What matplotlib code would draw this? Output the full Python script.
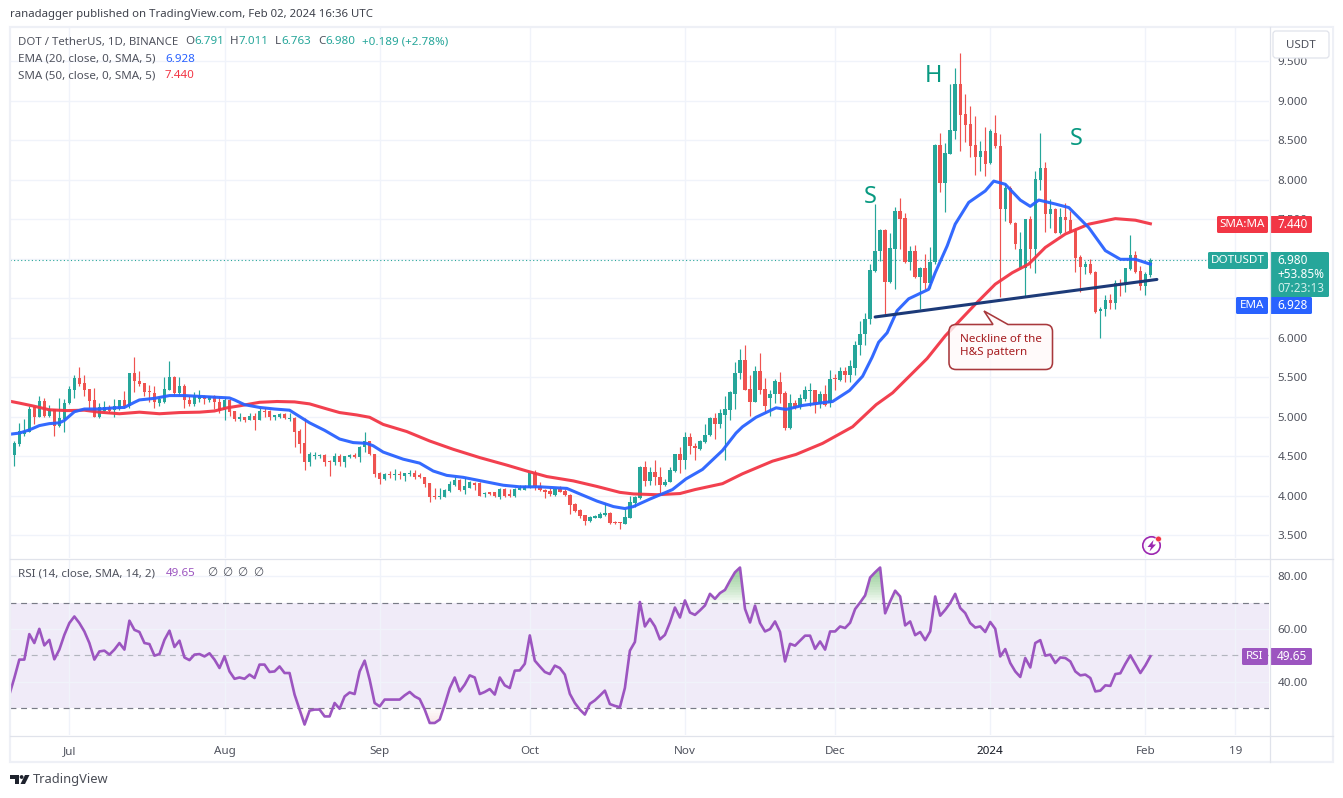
import numpy as np
import pandas as pd
import matplotlib
matplotlib.use('Agg')
import matplotlib.pyplot as plt
import matplotlib.dates as mdates
from matplotlib.patches import Rectangle, Circle, Polygon, PathPatch, FancyBboxPatch
from matplotlib.path import Path

plt.rcParams['font.family'] = ['Noto Sans', 'DejaVu Sans']

start_date = '2023-06-20'
opens = [4.517,4.656,4.78,4.81,5.115,5.00,5.20,5.01,5.095,4.875,
 4.97,5.17,5.34,5.49,5.42,5.35,5.21,4.99,5.07,5.115,
 5.08,5.09,5.21,5.135,5.545,5.45,5.43,5.315,5.30,5.17,
 5.18,5.34,5.495,5.30,5.39,5.21,5.16,5.22,5.255,5.205,
 5.255,5.19,5.085,5.21,5.065,4.97,4.99,4.96,5.01,4.96,
 5.065,5.065,5.00,4.99,5.035,4.97,4.985,4.82,4.665,4.42,
 4.505,4.505,4.515,4.43,4.42,4.50,4.425,4.49,4.51,4.485,
 4.61,4.685,4.53,4.28,4.205,4.27,4.26,4.27,4.25,4.27,
 4.29,4.255,4.24,4.155,3.99,3.985,3.985,4.06,4.13,4.195,
 4.07,4.10,4.155,4.155,4.015,4.04,4.04,3.985,4.08,4.015,
 3.995,4.075,4.07,4.10,4.28,4.12,4.075,4.055,4.01,4.08,
 4.055,4.01,3.895,3.815,3.75,3.675,3.715,3.72,3.75,3.775,
 3.67,3.66,3.64,3.72,3.90,3.965,4.36,4.18,4.295,4.24,
 4.13,4.17,4.31,4.53,4.45,4.74,4.63,4.59,4.675,4.76,
 4.975,4.91,5.025,5.08,5.29,5.545,5.71,5.35,5.19,5.57,
 5.35,5.23,5.28,5.435,5.30,4.85,5.17,5.12,5.225,5.32,
 5.33,5.16,5.28,5.165,5.48,5.46,5.57,5.53,5.62,5.90,
 6.04,6.23,6.84,7.095,7.355,6.70,7.125,7.605,7.515,6.955,
 7.10,6.77,6.885,6.695,6.96,8.435,7.955,8.32,8.615,9.205,
 8.83,8.70,8.435,8.285,8.355,8.205,8.595,8.42,7.625,7.89,
 7.455,6.88,6.88,7.50,7.125,7.995,8.15,7.56,7.625,7.32,
 7.52,7.485,7.35,7.025,6.895,6.93,6.83,6.335,6.36,6.47,
 6.435,6.685,6.66,6.865,7.04,6.845,6.655,6.791]
closes = [4.665,4.82,4.82,5.095,5.00,5.20,5.01,5.095,4.875,4.98,
 5.17,5.35,5.49,5.415,5.34,5.20,5.00,5.12,5.12,5.07,
 5.135,5.21,5.135,5.545,5.445,5.41,5.305,5.305,5.18,5.22,
 5.35,5.495,5.30,5.39,5.205,5.16,5.255,5.265,5.22,5.255,
 5.18,5.065,5.21,5.055,4.97,4.99,4.96,5.01,4.96,5.065,
 5.055,4.99,5.01,5.035,4.975,4.985,4.81,4.655,4.42,4.52,
 4.515,4.515,4.42,4.42,4.495,4.425,4.50,4.51,4.485,4.615,
 4.685,4.525,4.27,4.205,4.27,4.255,4.27,4.255,4.28,4.29,
 4.24,4.235,4.14,3.975,3.975,4.00,4.07,4.145,4.20,4.07,
 4.12,4.165,4.13,4.00,4.03,4.02,3.99,4.08,4.00,3.995,
 4.08,4.09,4.115,4.28,4.115,4.07,4.04,4.015,4.08,4.045,
 4.005,3.88,3.80,3.735,3.675,3.725,3.74,3.765,3.775,3.655,
 3.65,3.65,3.73,3.915,3.98,4.36,4.18,4.295,4.24,4.13,
 4.175,4.32,4.53,4.45,4.74,4.625,4.60,4.69,4.76,4.98,
 4.91,5.04,5.09,5.31,5.555,5.71,5.34,5.19,5.575,5.34,
 5.13,5.29,5.445,5.29,4.85,5.17,5.11,5.235,5.33,5.33,
 5.15,5.28,5.15,5.48,5.47,5.575,5.53,5.64,5.91,6.05,
 6.235,6.85,7.10,7.355,6.70,7.135,7.605,7.505,6.955,7.10,
 6.77,6.885,6.695,6.96,8.435,7.955,8.33,8.625,9.205,8.815,
 8.69,8.425,8.285,8.355,8.20,8.61,8.42,7.625,7.89,7.445,
 7.18,7.125,7.505,7.125,8.005,8.15,7.56,7.625,7.32,7.52,
 7.485,7.35,7.01,6.895,6.93,6.815,6.325,6.365,6.47,6.435,
 6.685,6.66,6.875,7.04,6.83,6.655,6.80,6.98]
highs = [4.686,4.918,4.97,5.137,5.137,5.255,5.235,5.15,5.095,5.235,
 5.22,5.39,5.53,5.63,5.52,5.35,5.36,5.17,5.20,5.15,
 5.22,5.21,5.32,5.55,5.75,5.57,5.43,5.40,5.39,5.26,
 5.495,5.705,5.515,5.495,5.41,5.26,5.305,5.34,5.275,5.265,
 5.275,5.265,5.245,5.22,5.07,5.045,4.99,5.045,5.05,5.11,
 5.11,5.08,5.02,5.05,5.045,5.05,4.995,4.84,4.98,4.55,
 4.55,4.53,4.53,4.445,4.54,4.52,4.50,4.525,4.535,4.63,
 4.81,4.69,4.53,4.30,4.28,4.31,4.33,4.31,4.29,4.32,
 4.325,4.28,4.24,4.155,4.10,4.10,4.08,4.185,4.24,4.205,
 4.24,4.185,4.175,4.165,4.04,4.04,4.045,4.09,4.09,4.08,
 4.09,4.13,4.13,4.29,4.32,4.165,4.08,4.09,4.10,4.115,
 4.08,4.025,3.90,3.83,3.755,3.74,3.755,3.785,3.90,3.785,
 3.68,3.66,3.83,4.00,3.99,4.375,4.44,4.355,4.45,4.355,
 4.205,4.355,4.53,4.61,4.805,4.79,4.66,4.70,4.91,5.00,
 5.045,5.10,5.265,5.32,5.695,5.86,5.90,5.53,5.64,5.805,
 5.49,5.34,5.475,5.565,5.32,5.29,5.215,5.28,5.385,5.42,
 5.33,5.32,5.405,5.595,5.54,5.625,5.63,5.72,5.955,6.215,
 6.31,6.925,7.695,7.37,7.37,7.325,7.655,7.77,7.57,7.155,
 7.165,6.895,7.055,7.14,8.445,8.585,8.46,9.205,9.41,9.60,
 9.08,8.925,8.80,8.49,8.66,8.64,8.815,8.58,7.96,7.92,
 7.465,7.33,7.505,7.54,8.11,8.585,8.22,7.75,7.645,7.645,
 7.70,7.60,7.39,7.04,6.97,6.99,6.845,6.38,6.535,6.55,
 6.73,6.74,6.885,7.30,7.10,6.91,6.835,7.011]
lows = [4.378,4.63,4.75,4.80,4.91,4.99,4.99,4.99,4.75,4.87,
 4.80,5.16,5.23,5.38,5.26,5.11,4.99,4.98,5.06,5.04,
 4.99,5.085,5.11,5.11,5.305,5.39,5.26,5.18,5.11,5.13,
 5.17,5.33,5.275,5.275,5.11,5.13,5.13,5.19,5.16,5.19,
 5.095,5.045,4.95,5.01,4.94,4.94,4.935,4.955,4.83,4.95,
 5.00,4.96,4.96,4.985,4.97,4.945,4.62,4.54,4.32,4.37,
 4.46,4.47,4.37,4.25,4.38,4.375,4.36,4.48,4.475,4.425,
 4.55,4.51,4.24,4.14,4.20,4.225,4.20,4.21,4.185,4.25,
 4.205,4.225,4.11,3.92,3.95,3.95,3.975,4.04,4.12,4.06,
 4.015,4.09,4.07,3.995,3.98,4.005,3.98,3.96,3.975,3.98,
 3.985,4.065,4.065,4.09,4.07,4.06,3.97,4.00,4.00,4.04,
 3.995,3.76,3.785,3.71,3.625,3.67,3.71,3.71,3.74,3.645,
 3.635,3.575,3.635,3.71,3.85,3.955,4.115,4.13,4.13,4.02,
 4.12,4.165,4.30,4.28,4.33,4.52,4.455,4.58,4.66,4.75,
 4.715,4.85,4.455,4.96,5.09,5.47,5.33,5.005,5.18,5.28,
 5.045,5.005,5.17,5.17,4.83,4.845,5.09,5.09,5.195,5.13,
 5.04,5.105,5.13,5.12,5.34,5.45,5.435,5.435,5.52,5.775,
 5.91,6.165,6.83,6.965,6.29,6.69,6.62,7.115,6.94,6.86,
 6.755,6.365,6.62,6.63,6.93,7.845,7.59,8.32,8.51,8.36,
 8.47,8.29,8.055,8.11,8.04,8.195,8.405,6.515,7.475,7.435,
 7.125,6.865,6.52,6.885,6.82,7.87,7.33,7.38,7.32,7.31,
 7.33,7.33,6.83,6.58,6.80,6.80,6.31,5.99,6.275,6.36,
 6.36,6.53,6.57,6.855,6.82,6.60,6.535,6.763]

ema_pos = [-1,1,3,5,7,9,10,12,14,17,20,22,24,25,28,31,34,37,40,43,44,46,49,52,55,57,59,62,65,
 67.7,70.4,71.7,73.7,77.7,81,83.7,86.4,89.7,93.7,97.7,101,105,110.4,113,116.4,119.7,122,123.7,127,
 131.5,134.2,137.5,141.5,144.2,145.5,148.2,152.2,154.2,157.5,160.9,163.5,166.9,169.5,171.4,172.7,174.4,176.4,178.7,
 182.7,184,186.4,188,190.7,194,195.7,198,201,203,204.7,208,210.7,214.7,218,221,224,227]
ema_val = [4.775,4.79,4.83,4.885,4.91,4.92,4.95,5.06,5.095,5.095,5.11,5.115,5.18,5.21,5.23,5.265,5.265,5.255,5.245,5.235,5.21,5.15,5.115,5.095,5.08,5.00,4.92,4.825,4.715,
 4.67,4.66,4.63,4.55,4.46,4.41,4.31,4.255,4.23,4.18,4.13,4.11,4.11,4.09,4.02,3.93,3.86,3.835,3.86,3.955,
 4.075,4.21,4.33,4.57,4.79,4.87,4.99,5.11,5.09,5.14,5.17,5.19,5.33,5.51,5.75,5.94,6.06,6.34,6.49,
 6.61,6.82,7.16,7.435,7.71,7.855,7.98,7.94,7.74,7.66,7.74,7.69,7.645,7.39,7.10,6.99,6.99,6.928]
sma_pos = [-1,1,4,7,10.5,14,17,21,25,29,33,37,40,42.5,45,49,52.5,56,59,62.5,65,
 68.4,71,73.7,78.4,83,87.7,93,98.4,102.4,106.4,111.7,116.4,121,123.7,128.4,133,
 136,141.5,145.5,151.5,156.2,161.5,167.5,172.2,175.5,178.2,180.9,
 182.4,186,192,196,199.4,202.7,206,210,214.7,220,224,227]
sma_val = [5.195,5.17,5.13,5.085,5.075,5.08,5.055,5.035,5.055,5.035,5.05,5.055,5.07,5.11,5.135,5.18,5.19,5.185,5.16,5.095,5.05,
 5.02,4.99,4.90,4.81,4.69,4.585,4.48,4.385,4.31,4.24,4.185,4.115,4.04,4.02,4.01,4.025,
 4.075,4.15,4.275,4.435,4.52,4.66,4.87,5.15,5.30,5.47,5.64,
 5.735,6.02,6.42,6.675,6.82,6.93,7.14,7.31,7.435,7.505,7.485,7.44]
neck_pos = [172, 228.3]
neck_val = [6.26, 6.735]
rsi_val = [35,41.4,48.4,48.4,58.1,54.7,60.1,53.8,55.9,48.5,
 52.2,57.8,62.3,64.8,62.3,59.1,54.7,48.4,51.5,51.8,
 50.3,52.2,54.7,52.2,63.2,59.7,58.9,54.7,54.3,49.9,
 50.5,55.9,59.4,53.2,55.6,49.2,48.2,50.3,50.5,49.6,
 50.8,48.4,45.2,49.6,43.9,41.1,41.6,41.1,42.7,41.4,
 46.5,46.5,43.7,43.9,45.8,43.3,43.3,35.1,29.4,23.7,
 29.0,29.4,29.4,26.8,26.8,31.9,29.7,34.4,35.9,35.3,
 43.9,48.0,40.8,31.9,30.6,33.2,33.2,33.2,33.2,34.8,
 36.1,34.4,33.4,29.4,24.3,24.3,25.6,31.3,37.5,41.6,
 36.3,38.9,42.4,41.6,35.3,36.1,37.2,35.1,41.6,38.6,
 37.6,44.2,44.3,46.8,57.6,48.0,45.8,43.7,42.9,46.1,
 45.2,42.7,35.4,31.9,29.4,27.5,31.6,32.9,34.7,36.6,
 31.5,30.8,30.3,37.6,51.8,55.1,70.3,61.0,63.9,61.0,
 56.1,57.8,62.5,68.2,64.4,70.9,66.3,65.4,67.1,69.0,
 73.4,71.5,73.7,74.9,78.4,81.6,83.4,67.7,62.5,68.9,
 62.3,59.1,60.0,62.9,58.9,47.7,54.4,53.7,55.6,57.5,
 57.5,52.5,55.3,52.2,59.1,59.1,61.0,60.4,62.4,67.6,
 70.1,72.8,79.6,81.6,83.4,66.0,70.5,74.6,72.4,61.4,
 62.9,57.7,58.9,55.8,59.1,72.4,65.1,67.3,69.9,73.4,
 68.0,66.1,62.3,60.6,61.0,58.9,62.7,60.1,49.6,52.4,
 47.1,43.9,41.8,49.0,45.4,54.7,55.8,49.9,50.3,47.1,
 49.2,49.0,47.7,43.9,42.4,42.7,41.4,36.3,36.6,38.6,
 38.4,42.9,43.2,46.8,50.0,46.7,43.3,46.2,49.65]
price_ticks = [3.5,4.0,4.5,5.0,5.5,6.0,6.5,7.0,7.5,8.0,8.5,9.0,9.5]
rsi_ticks = [40,60,80]
time_ticks = ['2023-07-01','2023-08-01','2023-09-01','2023-10-01','2023-11-01','2023-12-01','2024-01-01','2024-02-01','2024-02-19']
time_labels = ['Jul','Aug','Sep','Oct','Nov','Dec','2024','Feb','19']

W, H = 1343, 798
UP, DOWN, BLUE, RED, PURPLE = '#26a69a', '#ef5350', '#2962ff', '#f23645', '#9c55c0'
GRID, LINE, TXT, TXT2 = '#f0f3fa', '#e0e3eb', '#131722', '#50535e'
FONT = ['Noto Sans', 'DejaVu Sans']

fig = plt.figure(figsize=(W/100, H/100), dpi=100, facecolor='white')
def axpx(l, t, r, b):
    return fig.add_axes([l/W, 1-b/H, (r-l)/W, (b-t)/H])

ax = axpx(10, 28, 1269, 558)
rx = axpx(10, 559, 1269, 735)

x0 = mdates.date2num(pd.Timestamp(start_date))
n = len(opens)
x = x0 + np.arange(n)
o, h, l, c = map(np.array, (opens, highs, lows, closes))
up = c >= o
col = np.where(up, UP, DOWN)
xlim = (x0 - 0.86, x0 + 250.7)
tick_x = [mdates.date2num(pd.Timestamp(t)) for t in time_ticks]

for a in (ax, rx):
    a.set_xlim(*xlim)
    for s in a.spines.values():
        s.set_visible(False)
    a.set_xticks(tick_x)
    a.grid(True, color=GRID, lw=1.0)
    a.set_axisbelow(True)
    a.tick_params(axis='both', length=0)
    a.tick_params(axis='y', left=False, labelleft=False, right=False, labelright=True,
                  labelsize=8.4, labelcolor=TXT2, pad=6)

ax.set_ylim(3.209, 9.918)
ax.set_yticks(price_ticks)
ax.set_yticklabels([f'{v:.3f}' for v in price_ticks])
ax.tick_params(axis='x', labelbottom=False)

# price line
ax.axhline(closes[-1], color=UP, lw=0.8, ls=(0, (1, 2.2)), zorder=1.5)
# candles
ax.vlines(x, l, h, colors=col, lw=0.85, zorder=3)
body = np.maximum(np.abs(c-o), 0.014)
ax.bar(x, body, bottom=np.minimum(o, c), width=0.68, color=col, lw=0, zorder=3.2)
# moving averages
ax.plot(x0+np.array(sma_pos), sma_val, color=RED, lw=2.2, solid_joinstyle='round', zorder=4, alpha=.95)
ax.plot(x0+np.array(ema_pos), ema_val, color=BLUE, lw=2.2, solid_joinstyle='round', zorder=4.2, alpha=.95)
ax.plot(x0+np.array(neck_pos), neck_val, color='#1c3a78', lw=2.2, solid_capstyle='round', zorder=4.5)

# RSI
rsi = np.array(rsi_val)
rx_x = x0 + np.arange(-1, n)
rx.set_ylim(19.73, 86.65)
rx.set_yticks(rsi_ticks)
rx.set_yticklabels([f'{v:.2f}' for v in rsi_ticks])
rx.set_xticklabels(time_labels)
rx.tick_params(axis='x', labelsize=8.4, labelcolor=TXT2, pad=8)
for t in rx.get_xticklabels():
    if t.get_text() == '2024':
        t.set_color(TXT)
rx.axhspan(30, 70, color='#7e57c2', alpha=0.115, lw=0, zorder=0.5)
for lvl, cc in ((70, '#787b86'), (30, '#787b86'), (50, '#b2b5be')):
    rx.axhline(lvl, color=cc, lw=0.85, ls=(0, (5, 4)), zorder=1)
for t in np.linspace(70, 84, 15):
    rx.fill_between(rx_x, t, rsi, where=rsi > t, interpolate=True, color='#4caf50', alpha=0.055, lw=0, zorder=1.2)
for t in np.linspace(30, 22, 9):
    rx.fill_between(rx_x, t, rsi, where=rsi < t, interpolate=True, color='#f44336', alpha=0.02, lw=0, zorder=1.2)
rx.plot(rx_x, rsi, color=PURPLE, lw=1.9, solid_joinstyle='round', zorder=3)

# overlay in figure pixels
ov = fig.add_axes([0, 0, 1, 1], zorder=10, facecolor='none')
ov.set_xlim(0, W); ov.set_ylim(H, 0); ov.axis('off')

def T(px, py, s, size=11.6, color=TXT2, ha='left', **kw):
    return ov.text(px, py, s, fontsize=size*0.72, color=color, ha=ha, va='center', family=FONT, **kw)

# frame and separators
ov.add_patch(Rectangle((10, 27), 1323, 735, fill=False, ec='#eef0f6', lw=1.6))
ov.plot([1269.5, 1269.5], [27, 762], color=LINE, lw=0.9)
ov.plot([10, 1333], [558.5, 558.5], color=LINE, lw=0.9)
ov.plot([10, 1333], [735.5, 735.5], color=LINE, lw=0.9)

# header and legends
T(10, 15, 'ranadagger published on TradingView.com, Feb 02, 2024 16:36 UTC', 11.4, '#3f424c')
T(18, 42, 'DOT / TetherUS, 1D, BINANCE', 11.4)
for px, s, cc in ((185,'O',TXT2),(194,'6.791',UP),(230,'H',TXT2),(239,'7.011',UP),(275,'L',TXT2),(281,'6.763',UP),
                  (318,'C',TXT2),(325,'6.980',UP),(362,'+0.189 (+2.78%)',UP)):
    T(px, 42, s, 11.6, cc)
T(18, 59, 'EMA (20, close, 0, SMA, 5)', 11.6)
T(165, 59, '6.928', 11.6, BLUE)
T(18, 76, 'SMA (50, close, 0, SMA, 5)', 11.6)
T(165, 76, '7.440', 11.6, RED)
T(18, 574, 'RSI (14, close, SMA, 14, 2)', 11.6)
T(166, 574, '49.65', 11.6, PURPLE)
for px in (207, 222, 237, 253):
    T(px, 574, '∅', 11.6)

# pattern labels
T(933, 76, 'H', 23.5, '#089981', ha='center', fontweight='bold')
T(870, 197, 'S', 23.5, '#089981', ha='center', fontweight='bold')
T(1076, 139, 'S', 23.5, '#089981', ha='center', fontweight='bold')

# callout
bx0, by0, bx1, by1, r = 949, 324.5, 1052.5, 369.5, 7
verts = [(bx0+r,by0),(993,by0),(984,311),(1008,by0),(bx1-r,by0),(bx1,by0),(bx1,by0+r),(bx1,by1-r),(bx1,by1),(bx1-r,by1),
         (bx0+r,by1),(bx0,by1),(bx0,by1-r),(bx0,by0+r),(bx0,by0),(bx0+r,by0)]
codes = [Path.MOVETO,Path.LINETO,Path.LINETO,Path.LINETO,Path.LINETO,Path.CURVE3,Path.CURVE3,Path.LINETO,Path.CURVE3,Path.CURVE3,
         Path.LINETO,Path.CURVE3,Path.CURVE3,Path.LINETO,Path.CURVE3,Path.CURVE3]
ov.add_patch(PathPatch(Path(verts, codes), fc=(1, .975, .975, .8), ec='#a8383c', lw=1.15))
T(960, 339.5, 'Neckline of the', 11.6, '#a61c20')
T(960, 352, 'H&S pattern', 11.6, '#a61c20')

# right-hand labels
def box(x0_, y0_, x1_, y1_, cc):
    ov.add_patch(FancyBboxPatch((x0_+1, y0_+1), x1_-x0_-2, y1_-y0_-2, boxstyle='round,pad=1,rounding_size=1.5', fc=cc, ec='none'))
box(1217, 216, 1268, 233, RED);  T(1242.5, 224.5, 'SMA:MA', 11.6, 'white', ha='center')
box(1270, 216, 1312, 233, RED);  T(1277, 224.5, '7.440', 11.8, 'white')
box(1208, 252, 1268, 269, UP);   T(1238, 260.5, 'DOTUSDT', 11.6, 'white', ha='center')
box(1270, 252, 1329, 297, UP)
T(1277, 260.5, '6.980', 11.8, 'white')
T(1277, 274.5, '+53.85%', 11.8, 'white')
T(1277, 288.5, '07:23:13', 11.8, '#cfeeea')
box(1236, 297, 1268, 314, BLUE); T(1252, 305.5, 'EMA', 11.6, 'white', ha='center')
box(1270, 297, 1312, 314, BLUE); T(1277, 305.5, '6.928', 11.8, 'white')
box(1242, 648, 1268, 665, PURPLE); T(1255, 656.5, 'RSI', 11.6, 'white', ha='center')
box(1270, 648, 1312, 665, PURPLE); T(1277, 656.5, '49.65', 11.8, 'white')

# currency button
ov.add_patch(Rectangle((1271, 28), 61, 29.5, fc='white', ec='none'))
ov.add_patch(FancyBboxPatch((1275, 33), 52, 23, boxstyle='round,pad=2,rounding_size=3', fc='white', ec=LINE, lw=0.9))
T(1300.5, 45, 'USDT', 11.6, TXT2, ha='center')

# flash icon
ov.add_patch(Circle((1151.5, 545.5), 8.7, fill=False, ec='#9c27b0', lw=1.2))
ov.add_patch(Polygon([(1153.5,540),(1147.5,547),(1151,547),(1149.5,551.5),(1156,544.5),(1152.5,544.5)], fc='#9c27b0', ec='none'))
ov.add_patch(Circle((1158.5, 539), 2.9, fc='#f23645', ec='white', lw=0.4))

# logo
LOGO = '#1e222d'
ov.add_patch(Polygon([(10,775),(19,775),(19,784),(15,784),(15,778.5),(10,778.5)], fc=LOGO, ec='none'))
ov.add_patch(Circle((21.6,777), 1.9, fc=LOGO, ec='none'))
ov.add_patch(Polygon([(25,775),(29.5,775),(25,784),(20.5,784)], fc=LOGO, ec='none'))
T(33, 780, 'TradingView', 12.9, '#4a4d56')

fig.savefig('out.png', dpi=100, facecolor='white')
